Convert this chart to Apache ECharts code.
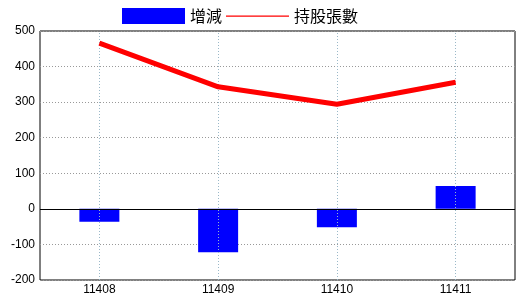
<!DOCTYPE html>
<html><head><meta charset="utf-8">
<script src="https://cdn.jsdelivr.net/npm/echarts@6/dist/echarts.min.js"></script>
<style>html,body{margin:0;padding:0;background:#fff}#c{width:520px;height:300px}</style>
</head><body><div id="c"></div>
<script>
const categories = ['11408','11409','11410','11411'];
const changeValues = [-36, -122, -52, 64];
const holdingValues = [466, 343, 294, 356];
const yTicks = {min: -200, max: 500, interval: 100};

const chart = echarts.init(document.getElementById('c'));
const font = '"Liberation Sans", "DejaVu Sans", sans-serif';
const cjk = '"Noto Sans CJK TC", "Noto Sans CJK SC", sans-serif';
chart.setOption({
  animation: false,
  backgroundColor: '#fff',
  legend: {
    data: [
      {name: '增減', icon: 'rect'},
      {name: '持股張數', icon: 'path://M0,0 L0,0 M0,7.5 L63,7.5 L63,8.7 L0,8.7 Z M63,16 L63,16'}
    ],
    left: 122, top: 8, itemWidth: 63, itemHeight: 16, itemGap: 4,
    textStyle: {fontFamily: cjk, fontSize: 16, color: '#000'}, padding: 0
  },
  grid: {left: 40, right: 5, top: 31, bottom: 20, show: true, borderColor: '#000', borderWidth: 1, backgroundColor: 'transparent'},
  xAxis: {
    type: 'category', data: categories, boundaryGap: true,
    axisLine: {show: false, onZero: false}, axisTick: {show: false}, splitLine: {show: false},
    axisLabel: {fontFamily: font, fontSize: 12, color: '#000', margin: 4}
  },
  yAxis: {
    type: 'value', min: yTicks.min, max: yTicks.max, interval: yTicks.interval,
    axisLine: {show: false}, axisTick: {show: false},
    splitLine: {show: true, lineStyle: {color: '#999', type: [1, 2], width: 1}},
    axisLabel: {fontFamily: font, fontSize: 12, color: '#000', margin: 5}
  },
  series: [
    {
      name: '增減', type: 'bar', data: changeValues, barWidth: 40,
      itemStyle: {color: '#0000ff'},
      markLine: {silent: true, symbol: 'none', label: {show: false},
        lineStyle: {color: '#000', type: 'solid', width: 1},
        data: [{yAxis: 0}]}
    },
    {
      name: '持股張數', type: 'line', data: holdingValues, symbol: 'none',
      lineStyle: {color: '#ff0000', width: 5}, itemStyle: {color: '#ff0000'}, z: 5,
      markLine: {silent: true, symbol: 'none', label: {show: false},
        lineStyle: {color: '#9ab8c8', type: [1, 2], width: 1},
        data: categories.map(c => ({xAxis: c}))}
    }
  ]
});
</script></body></html>
